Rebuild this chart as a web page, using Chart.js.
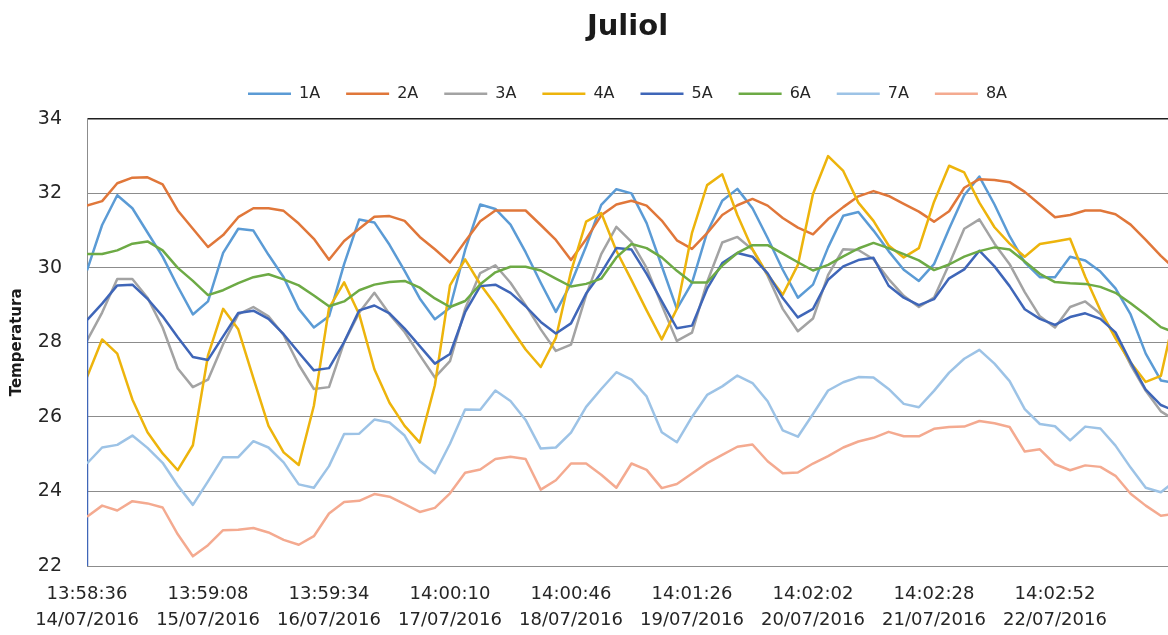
<!DOCTYPE html>
<html>
<head>
<meta charset="utf-8">
<script src="https://cdn.jsdelivr.net/npm/chart.js"></script>
<style>
  html, body { margin: 0; padding: 0; background: #ffffff; }
  #wrap { width: 1168px; height: 635px; }
</style>
</head>
<body>
<div id="wrap"><canvas id="grafic"></canvas></div>
<script>
// series names and colours
const series = ["1A", "2A", "3A", "4A", "5A", "6A", "7A", "8A"];
const colors = ["#5B9BD5", "#E0773A", "#A3A3A3", "#EDB40C", "#3F66B8", "#6DAA45", "#9DC3E6", "#F4AA90"];

// x axis labels, one per day
const tickLabels = [
  ["13:58:36", "14/07/2016"], ["13:59:08", "15/07/2016"], ["13:59:34", "16/07/2016"],
  ["14:00:10", "17/07/2016"], ["14:00:46", "18/07/2016"], ["14:01:26", "19/07/2016"],
  ["14:02:02", "20/07/2016"], ["14:02:28", "21/07/2016"], ["14:02:52", "22/07/2016"]
];
const xMax = 8.934;   // last reading, in days from the first label
const pas = 1 / 8;    // readings every 3 hours

// temperatures (ºC)
const s1A = [29.93, 31.15, 31.95, 31.6, 30.95, 30.3, 29.5, 28.75, 29.1, 30.4, 31.05, 31.0, 30.35, 29.75, 28.9, 28.4, 28.7, 30.1, 31.3,
  31.22, 30.62, 29.92, 29.18, 28.62, 28.93, 30.48, 31.7, 31.58, 31.16, 30.42, 29.6, 28.82, 29.58, 30.58, 31.69, 32.11,
  32.0, 31.2, 30.05, 28.9, 29.6, 30.95, 31.8, 32.12, 31.6, 30.8, 29.95, 29.2, 29.55, 30.55, 31.4, 31.5, 31.0, 30.45,
  29.95, 29.65, 30.1, 31.05, 31.95, 32.45, 31.7, 30.85, 30.15, 29.75, 29.75, 30.3, 30.2, 29.9, 29.45, 28.75, 27.7, 26.98, 26.9];
const s2A = [31.67, 31.79, 32.27, 32.42, 32.43, 32.24, 31.54, 31.05, 30.56, 30.88, 31.36, 31.6, 31.6, 31.53, 31.19, 30.78, 30.22, 30.72, 31.05,
  31.37, 31.39, 31.26, 30.83, 30.5, 30.14, 30.71, 31.25, 31.54, 31.54, 31.54, 31.15, 30.75, 30.21, 30.77, 31.41, 31.7,
  31.8, 31.67, 31.27, 30.74, 30.51, 30.93, 31.42, 31.68, 31.85, 31.67, 31.34, 31.08, 30.9, 31.31, 31.63, 31.92, 32.06, 31.93,
  31.72, 31.51, 31.24, 31.52, 32.15, 32.38, 32.36, 32.3, 32.04, 31.7, 31.36, 31.42, 31.54, 31.54, 31.44, 31.16, 30.75, 30.32, 29.95];
const s3A = [28.05, 28.8, 29.7, 29.7, 29.2, 28.4, 27.3, 26.8, 27.0, 27.95, 28.75, 28.95, 28.7, 28.2, 27.4, 26.75, 26.8, 28.0, 28.8,
  29.33, 28.76, 28.28, 27.66, 27.06, 27.5, 28.9, 29.86, 30.07, 29.6, 29.0, 28.35, 27.77, 27.94, 29.27, 30.37, 31.1,
  30.7, 30.0, 29.0, 28.04, 28.26, 29.62, 30.68, 30.83, 30.49, 29.79, 28.9, 28.3, 28.64, 29.81, 30.5, 30.48, 30.23, 29.7,
  29.25, 28.95, 29.2, 30.1, 31.05, 31.3, 30.65, 30.1, 29.35, 28.7, 28.4, 28.95, 29.1, 28.77, 28.2, 27.4, 26.7, 26.15, 25.9];
const s4A = [27.07, 28.08, 27.7, 26.47, 25.59, 25.02, 24.57, 25.24, 27.65, 28.9, 28.35, 27.04, 25.76, 25.05, 24.71, 26.3, 28.92, 29.61, 28.75,
  27.28, 26.38, 25.76, 25.31, 26.85, 29.53, 30.23, 29.56, 29.01, 28.4, 27.81, 27.34, 28.12, 29.9, 31.24, 31.47, 30.46,
  29.67, 28.86, 28.08, 28.9, 30.94, 32.22, 32.51, 31.42, 30.5, 29.82, 29.28, 30.08, 31.98, 33.0, 32.6, 31.75, 31.26, 30.6,
  30.28, 30.53, 31.77, 32.74, 32.56, 31.75, 31.09, 30.65, 30.3, 30.64, 30.71, 30.78, 29.76, 28.86, 28.11, 27.46, 26.94, 27.1, 28.9];
const inici5A = 22; // first 5A reading sits at the bottom of the scale
const s5A = [28.6, 29.04, 29.53, 29.55, 29.17, 28.7, 28.14, 27.61, 27.53, 28.16, 28.79, 28.85, 28.63, 28.22, 27.73, 27.25, 27.31, 28.01, 28.86,
  28.99, 28.78, 28.37, 27.9, 27.43, 27.69, 28.81, 29.51, 29.55, 29.33, 28.97, 28.55, 28.24, 28.51, 29.31, 29.87, 30.53,
  30.49, 29.84, 29.11, 28.38, 28.45, 29.44, 30.13, 30.4, 30.3, 29.85, 29.19, 28.67, 28.9, 29.68, 30.04, 30.21, 30.27, 29.52,
  29.2, 29.0, 29.16, 29.72, 29.96, 30.46, 30.04, 29.51, 28.89, 28.63, 28.47, 28.68, 28.78, 28.63, 28.27, 27.47, 26.73, 26.32, 26.15];
const s6A = [30.37, 30.37, 30.47, 30.65, 30.71, 30.47, 30.0, 29.65, 29.27, 29.4, 29.59, 29.75, 29.83, 29.69, 29.53, 29.26, 28.97, 29.1, 29.4,
  29.55, 29.62, 29.65, 29.47, 29.18, 28.95, 29.11, 29.56, 29.88, 30.03, 30.03, 29.93, 29.71, 29.5, 29.57, 29.71, 30.28,
  30.64, 30.53, 30.28, 29.92, 29.61, 29.61, 30.06, 30.4, 30.61, 30.61, 30.38, 30.15, 29.93, 30.08, 30.31, 30.52, 30.67, 30.53,
  30.37, 30.2, 29.94, 30.09, 30.3, 30.45, 30.55, 30.49, 30.17, 29.84, 29.62, 29.59, 29.57, 29.49, 29.33, 29.05, 28.74, 28.41, 28.25];
const s7A = [24.75, 25.18, 25.25, 25.5, 25.17, 24.77, 24.16, 23.64, 24.27, 24.92, 24.92, 25.35, 25.18, 24.78, 24.19, 24.1, 24.68, 25.54, 25.55,
  25.93, 25.85, 25.5, 24.81, 24.49, 25.28, 26.2, 26.19, 26.71, 26.43, 25.92, 25.15, 25.18, 25.58, 26.27, 26.75, 27.2,
  27.0, 26.55, 25.59, 25.32, 26.0, 26.59, 26.82, 27.11, 26.91, 26.42, 25.64, 25.47, 26.08, 26.71, 26.93, 27.07, 27.06, 26.75,
  26.35, 26.26, 26.7, 27.19, 27.56, 27.8, 27.43, 26.96, 26.21, 25.81, 25.75, 25.37, 25.74, 25.69, 25.23, 24.64, 24.1, 23.98, 24.3];
const s8A = [23.32, 23.62, 23.49, 23.74, 23.68, 23.57, 22.85, 22.26, 22.56, 22.96, 22.97, 23.02, 22.9, 22.7, 22.57, 22.8, 23.41, 23.72, 23.75,
  23.93, 23.86, 23.66, 23.45, 23.56, 23.95, 24.5, 24.59, 24.87, 24.93, 24.87, 24.05, 24.3, 24.75, 24.75, 24.45, 24.1,
  24.75, 24.58, 24.09, 24.2, 24.48, 24.76, 24.98, 25.2, 25.26, 24.81, 24.49, 24.51, 24.75, 24.95, 25.18, 25.34, 25.44, 25.6,
  25.48, 25.48, 25.68, 25.73, 25.74, 25.89, 25.83, 25.73, 25.07, 25.13, 24.73, 24.57, 24.7, 24.66, 24.42, 23.94, 23.62, 23.35, 23.4];

const valors = [s1A, s2A, s3A, s4A, s5A, s6A, s7A, s8A];
const fontFamily = "'DejaVu Sans', sans-serif";

const datasets = series.map((nom, i) => {
  const punts = valors[i].map((v, k) => ({ x: k * pas, y: v }));
  if (nom === "5A") punts.unshift({ x: 0, y: inici5A });
  return {
    label: nom,
    data: punts,
    borderColor: colors[i],
    backgroundColor: colors[i],
    borderWidth: 2.5,
    borderJoinStyle: "round",
    pointRadius: 0,
    tension: 0,
    order: series.length - i   // later series on top, like the original
  };
});

new Chart(document.getElementById("grafic"), {
  type: "line",
  data: { datasets: datasets },
  options: {
    responsive: true,
    maintainAspectRatio: false,
    animation: false,
    layout: { padding: 0 },
    plugins: {
      title: {
        display: true,
        text: "Juliol",
        color: "#1a1a1a",
        fullSize: false,
        font: { family: fontFamily, size: 29, weight: "bold" },
        padding: { top: 10, bottom: 15 }
      },
      legend: {
        position: "top",
        fullSize: false,
        labels: {
          usePointStyle: true,
          pointStyle: "line",
          pointStyleWidth: 43,
          boxHeight: 3,
          padding: 26,
          color: "#262626",
          font: { family: fontFamily, size: 16 },
          sort: (a, b) => a.datasetIndex - b.datasetIndex
        }
      },
      tooltip: { enabled: false }
    },
    scales: {
      x: {
        type: "linear",
        min: 0,
        max: xMax,
        grid: { display: false, drawTicks: false },
        border: { display: false },
        ticks: {
          stepSize: 1,
          includeBounds: false,
          autoSkip: false,
          maxRotation: 0,
          padding: 15,
          color: "#262626",
          font: { family: fontFamily, size: 18, lineHeight: 1.45 },
          callback: v => Number.isInteger(v) && tickLabels[v] ? tickLabels[v] : ""
        },
        afterFit: scale => { scale.height = 69; }
      },
      // empty strip between the legend and the plot area
      espai: {
        type: "linear",
        position: "top",
        grid: { display: false, drawTicks: false },
        border: { display: false },
        ticks: { display: false },
        afterFit: scale => { scale.height = 7; }
      },
      y: {
        min: 22,
        max: 34,
        grid: {
          drawTicks: false,
          color: c => (c.tick && c.tick.value === 34) ? "#1f1f1f" : "#8c8c8c",
          lineWidth: c => (c.tick && c.tick.value === 34) ? 1.5 : 1
        },
        border: { display: true, color: "#8c8c8c" },
        ticks: {
          stepSize: 2,
          padding: 25,
          color: "#262626",
          font: { family: fontFamily, size: 19 }
        },
        title: {
          display: true,
          text: "Temperatura",
          color: "#1a1a1a",
          font: { family: fontFamily, size: 15, weight: "bold" },
          padding: { top: 8, bottom: 0 }
        },
        afterFit: scale => { scale.width = 87; }
      }
    }
  }
});
</script>
</body>
</html>
